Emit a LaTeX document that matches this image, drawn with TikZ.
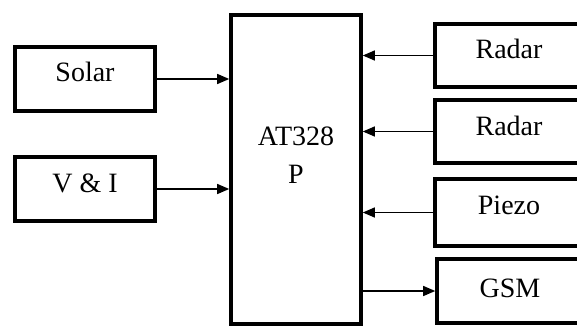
\documentclass[tikz,border=0pt]{standalone}
\usepackage{fontspec}
\setmainfont{Liberation Serif}
\usetikzlibrary{arrows.meta,positioning,calc}

\begin{document}
\begin{tikzpicture}[x=1pt,y=-1pt,font=\fontsize{28}{38}\selectfont,
  unitbox/.style={draw,line width=3.6pt,inner sep=0pt,minimum width=140pt,
                  text height=35pt,text depth=29pt},
  arr/.style={line width=1.3pt,-{Triangle[length=12pt,width=10pt]}}]
  \useasboundingbox (0,0) rectangle (577,326);

  % inputs on the left
  \node[unitbox] (solar) at (85,79) {Solar};
  \node[unitbox] (vi) at (85,189) {V \& I};

  % controller
  \node[draw,line width=3.6pt,inner sep=0pt,minimum width=130pt,
        minimum height=309pt] (mcu) at (296,169.5) {};
  \node[align=center,anchor=north,inner sep=0pt] (mcutext)
        at ([yshift=-113pt]mcu.north) {AT328\\P};

  % sensors and modem on the right
  \node[unitbox,minimum width=148pt,text depth=28pt] (radarA) at (509,55.5) {Radar};
  \node[unitbox,minimum width=148pt,text depth=28pt] (radarB) at (509,131.5) {Radar};
  \node[unitbox,minimum width=148pt,text depth=32pt] (piezo) at (509,212.5) {Piezo};
  \node[unitbox,minimum width=146pt,text height=38pt,text depth=26pt] (gsm)
        at (510,291) {GSM};

  \draw[arr] (solar.east) -- (solar.east -| mcu.west);
  \draw[arr] (vi.east) -- (vi.east -| mcu.west);
  \draw[arr] (radarA.west) -- (radarA.west -| mcu.east);
  \draw[arr] (radarB.west) -- (radarB.west -| mcu.east);
  \draw[arr] (piezo.west) -- (piezo.west -| mcu.east);
  \draw[arr] (gsm.west -| mcu.east) -- (gsm.west);
\end{tikzpicture}
\end{document}
